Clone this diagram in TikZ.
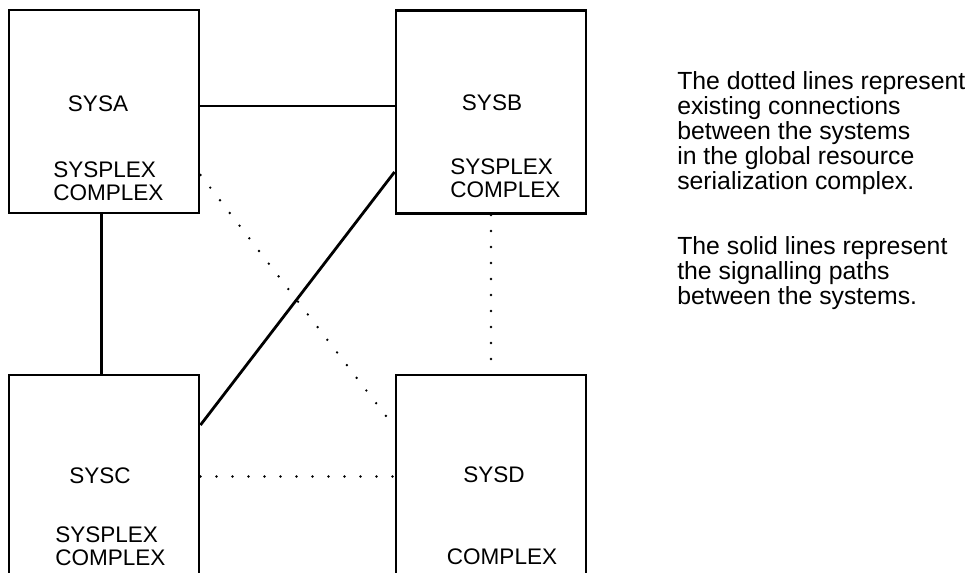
\documentclass[tikz,border=0pt]{standalone}
\usepackage{fontspec}
\setmainfont{Liberation Sans}

\begin{document}
\begin{tikzpicture}[x=0.75pt,y=-0.75pt,
 sysbox/.style={draw,line width=2.2pt,inner sep=0pt,minimum width=142.5pt,minimum height=152.25pt},
 syslbl/.style={inner sep=0pt,font=\fontsize{16.9pt}{17.25pt}\selectfont},
 cplxlbl/.style={syslbl,align=left,anchor=north west},
 signal/.style={line width=2.1pt},
 existing/.style={line width=2pt,line cap=round,dash pattern=on 0pt off 12pt},
 note/.style={inner sep=0pt,anchor=north west,align=left,font=\fontsize{18.6pt}{18.75pt}\selectfont}]
 \useasboundingbox (0,0) rectangle (973,573);
 \clip (0,0) rectangle (973,573);
 \node[sysbox] (sysa) at (104,111.5) {};
 \node[sysbox] (sysb) at (491,112) {};
 \node[sysbox] (sysc) at (104,476.5) {};
 \node[sysbox] (sysd) at (491,476.5) {};
 \node[syslbl] (sysalbl) at (98,104) {SYSA};
 \node[cplxlbl] (sysacplx) at (53,162) {SYSPLEX\\COMPLEX};
 \node[syslbl] (sysblbl) at (492,103) {SYSB};
 \node[cplxlbl] (sysbcplx) at (450,159) {SYSPLEX\\COMPLEX};
 \node[syslbl] (sysclbl) at (100,476) {SYSC};
 \node[cplxlbl] (sysccplx) at (55,526) {SYSPLEX\\COMPLEX};
 \node[syslbl] (sysdlbl) at (494,475) {SYSD};
 \node[syslbl] (sysdcplx) at (502,557) {COMPLEX};
 \draw[signal] ([yshift=4.1pt]sysa.east) -- ([yshift=4.1pt]sysa.east -| sysb.west);
 \draw[signal] ([xshift=-1.8pt]sysa.south) -- ([xshift=-1.8pt]sysc.north);
 \draw[signal] ([yshift=38.6pt]sysc.east) -- ([yshift=-45pt]sysb.west);
 \draw[existing] ([yshift=-47.6pt]sysa.east) -- ([yshift=37.1pt]sysd.west);
 \draw[existing] (sysc.east) -- (sysd.west);
 \draw[existing] (sysb.south) -- (sysd.north);
 \node[note] (dottednote) at (677,71.5) {The dotted lines represent\\existing connections\\between the systems\\in the global resource\\serialization complex.};
 \node[note] (solidnote) at (677,236.5) {The solid lines represent\\the signalling paths\\between the systems.};
\end{tikzpicture}
\end{document}
